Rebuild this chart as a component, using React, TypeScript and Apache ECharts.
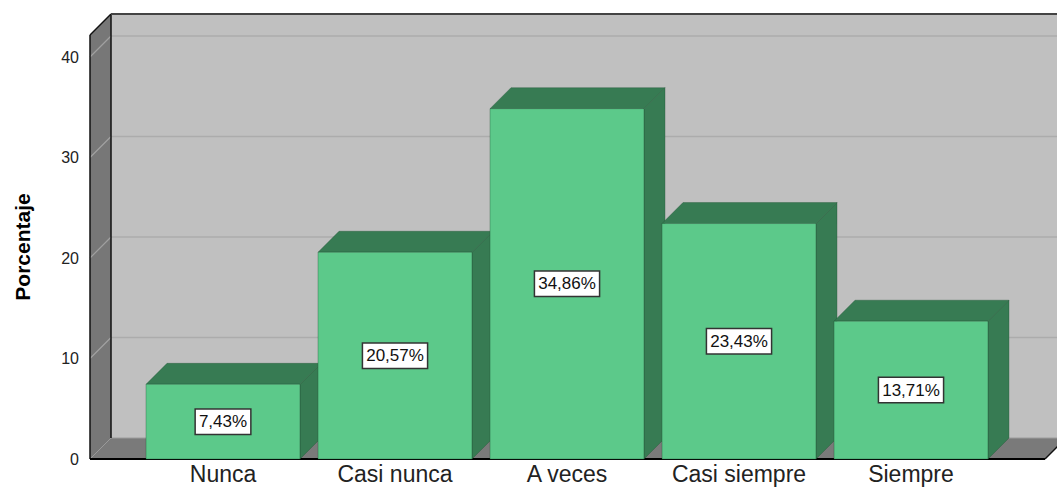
import React, { useEffect, useRef } from "react";
import * as echarts from "echarts";

const categories = ["Nunca", "Casi nunca", "A veces", "Casi siempre", "Siempre"];
const percentages = [7.43, 20.57, 34.86, 23.43, 13.71];
const yTicks = [0, 10, 20, 30, 40];
const yMax = 42.19;

const FRONT = "#5cc98a";
const DARK = "#377b53";
const DEPTH = 21;
const FONT = "'Liberation Sans', Arial, sans-serif";

export default function App() {
  const ref = useRef<HTMLDivElement>(null);
  useEffect(() => {
    if (!ref.current) return;
    const chart = echarts.init(ref.current, undefined, { renderer: "svg" });
    const option: any = {
      animation: false,
      backgroundColor: "#ffffff",
      grid: { left: 137, right: 60, top: 35, bottom: 29, outerBoundsMode: "none", containLabel: false },
      xAxis: {
        type: "category",
        data: categories,
        axisLine: { show: false },
        axisTick: { show: false },
        axisLabel: { fontSize: 23, lineHeight: 24, color: "#222", fontFamily: FONT, margin: 3, interval: 0 },
        splitLine: { show: false },
        z: 10,
      },
      yAxis: {
        type: "value",
        min: 0,
        max: yMax,
        interval: 10,
        axisLine: { show: false },
        axisTick: { show: false },
        splitLine: { show: false },
        axisLabel: {
          fontSize: 16,
          color: "#222",
          fontFamily: FONT,
          margin: 58,
          formatter: (v: number) => (yTicks.indexOf(v) >= 0 ? String(v) : ""),
        },
        name: "Porcentaje",
        nameLocation: "middle",
        nameGap: 104,
        nameTextStyle: { fontSize: 21, fontWeight: "bold", color: "#000", fontFamily: FONT },
      },
      series: [
        {
          type: "custom",
          z: 1,
          silent: true,
          data: [[0, 0]],
          renderItem: (params: any, api: any) => {
            const cs = params.coordSys;
            const D = DEPTH;
            const y0 = api.coord([0, 0])[1];
            const yTop = cs.y;
            const xL = cs.x - 47;
            const xR = cs.x + cs.width + 48;
            const children: any[] = [];
            children.push({
              type: "rect",
              shape: { x: xL + D, y: yTop - D, width: xR - xL, height: y0 - yTop },
              style: { fill: "#c0c0c0" },
            });
            children.push({
              type: "polygon",
              shape: { points: [[xL, yTop], [xL + D, yTop - D], [xL + D, y0 - D], [xL, y0]] },
              style: { fill: "#777777" },
            });
            children.push({
              type: "polygon",
              shape: { points: [[xL, y0], [xL + D, y0 - D], [xR + D, y0 - D], [xR, y0]] },
              style: { fill: "#7a7a7a" },
            });
            yTicks.forEach((t) => {
              if (t === 0) return;
              const yv = api.coord([0, t])[1];
              children.push({
                type: "line",
                shape: { x1: xL + D, y1: yv - D, x2: xR + D, y2: yv - D },
                style: { stroke: "#acacac", lineWidth: 1.5 },
              });
              children.push({
                type: "line",
                shape: { x1: xL, y1: yv, x2: xL + D, y2: yv - D },
                style: { stroke: "#a0a0a0", lineWidth: 1.2 },
              });
            });
            children.push({
              type: "line",
              shape: { x1: xL, y1: y0, x2: xL + D, y2: y0 - D },
              style: { stroke: "#9a9a9a", lineWidth: 1 },
            });
            children.push({
              type: "line",
              shape: { x1: xL + D, y1: y0 - D, x2: xR + D, y2: y0 - D },
              style: { stroke: "#9c9c9c", lineWidth: 1 },
            });
            const edge = { stroke: "#111", lineWidth: 1.5 };
            children.push({ type: "line", shape: { x1: xL, y1: yTop, x2: xL, y2: y0 }, style: edge });
            children.push({ type: "line", shape: { x1: xL + D, y1: yTop - D, x2: xL + D, y2: y0 - D }, style: edge });
            children.push({ type: "line", shape: { x1: xL, y1: yTop, x2: xL + D, y2: yTop - D }, style: edge });
            children.push({
              type: "line",
              shape: { x1: xL + D, y1: yTop - D, x2: xR + D + 20, y2: yTop - D },
              style: { stroke: "#444", lineWidth: 2 },
            });
            children.push({ type: "line", shape: { x1: xL, y1: y0, x2: xR, y2: y0 }, style: { stroke: "#000", lineWidth: 2 } });
            children.push({ type: "line", shape: { x1: xR, y1: y0, x2: xR + D, y2: y0 - D }, style: edge });
            return { type: "group", children };
          },
        },
        {
          type: "custom",
          z: 5,
          data: percentages.map((v, i) => [i, v]),
          renderItem: (params: any, api: any) => {
            const i = api.value(0);
            const v = api.value(1);
            const D = DEPTH;
            const base = api.coord([i, 0]);
            const top = api.coord([i, v]);
            const w = api.size([1, 0])[0] * 0.895;
            const xl = base[0] - w / 2;
            const xr = base[0] + w / 2;
            const y0 = base[1];
            const yt = top[1];
            const outline = { stroke: "rgba(30,80,50,0.45)", lineWidth: 0.8 };
            const label = v.toFixed(2).replace(".", ",") + "%";
            return {
              type: "group",
              children: [
                {
                  type: "polygon",
                  shape: { points: [[xr, yt], [xr + D, yt - D], [xr + D, y0 - D], [xr, y0]] },
                  style: { fill: DARK, ...outline },
                },
                {
                  type: "polygon",
                  shape: { points: [[xl, yt], [xl + D, yt - D], [xr + D, yt - D], [xr, yt]] },
                  style: { fill: DARK, ...outline },
                },
                {
                  type: "rect",
                  shape: { x: xl, y: yt, width: w, height: y0 - yt },
                  style: { fill: FRONT, ...outline },
                },
                {
                  type: "text",
                  x: base[0],
                  y: (y0 + yt) / 2,
                  style: {
                    text: label,
                    fill: "#111",
                    fontSize: 17,
                    fontFamily: FONT,
                    align: "center",
                    verticalAlign: "middle",
                    backgroundColor: "#ffffff",
                    borderColor: "#333",
                    borderWidth: 1.5,
                    padding: [4, 3, 3, 3],
                  },
                },
              ],
            };
          },
        },
      ],
    };
    chart.setOption(option);
    return () => chart.dispose();
  }, []);
  return (
    <div
      ref={ref}
      style={{ position: "fixed", left: 0, top: 0, width: 1057, height: 488 }}
    />
  );
}
